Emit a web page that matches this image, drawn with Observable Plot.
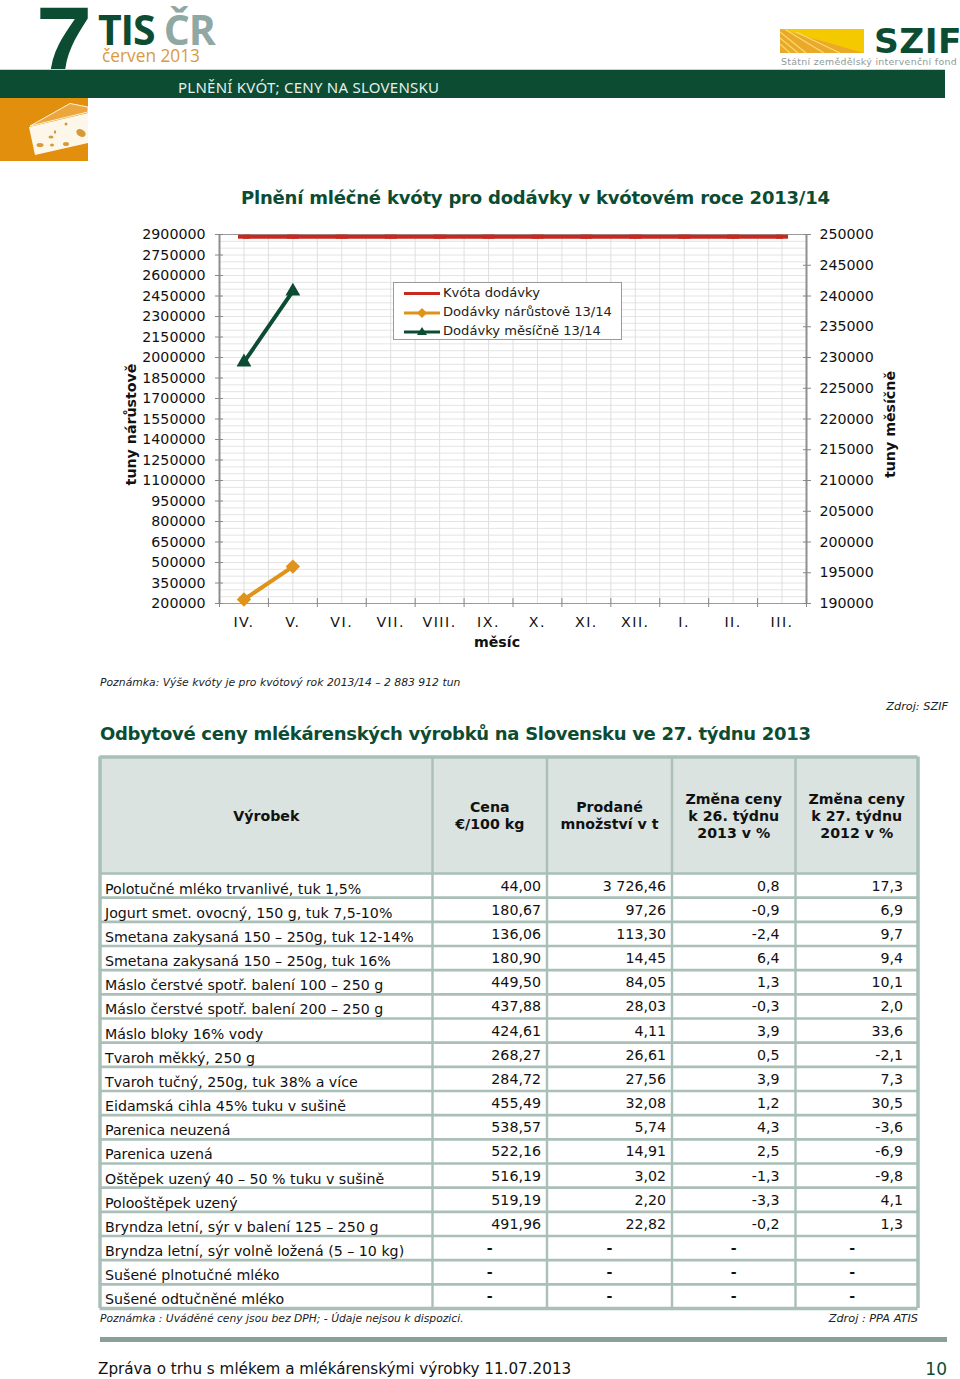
<!DOCTYPE html>
<html lang="cs">
<head>
<meta charset="utf-8">
<title>Plnění kvót; ceny na Slovensku</title>
<script src="https://cdn.jsdelivr.net/npm/d3@7"></script>
<script src="https://cdn.jsdelivr.net/npm/@observablehq/plot@0.6"></script>
<style>
html,body{margin:0;padding:0;width:960px;height:1379px;overflow:hidden;background:#fff;}
body{position:relative;font-family:"DejaVu Sans",sans-serif;color:#111;}
.a{position:absolute;white-space:nowrap;line-height:1;}
.a svg{display:block;}
[aria-label="x-axis tick label"]{letter-spacing:1.5px;}
</style>
</head>
<body>
<div class="a" id="seven" style="left:36px;top:0;font:bold 101px 'Liberation Sans';line-height:84px;color:#0b4c33;">7</div>
<div class="a" style="left:0;top:69px;width:945px;height:29px;background:#0b4c33;border-top:1px solid #bcd8cc;box-sizing:border-box;"></div>
<div class="a" style="left:98px;top:10px;font:bold 41px 'Open Sans';line-height:38px;color:#0b4c33;letter-spacing:-1.2px;">TIS <span style="color:#8fa8a3">ČR</span></div>
<div class="a" style="left:102px;top:48px;font:17.3px 'Open Sans';line-height:16px;color:#d99a3c;">červen 2013</div>
<div class="a" style="left:178px;top:79px;font:15px 'Noto Sans';line-height:16px;color:#e6efeb;letter-spacing:.25px;">PLNĚNÍ KVÓT; CENY NA SLOVENSKU</div>

<svg class="a" style="left:0;top:98px" width="88" height="63" viewBox="0 98 88 63" aria-hidden="true">
  <rect x="0" y="98" width="88" height="63" fill="#e38f0e"/>
  <path d="M30 126 L70 103.500 L88 107 L88 112 Z" fill="#eba63e" stroke="#fdf3df" stroke-width="1"/>
  <path d="M29 127 L88 113 L88 143 L35 155 Z" fill="#fdf7ea"/>
  <ellipse cx="81" cy="133" rx="5" ry="3.5" fill="#d69a3a" transform="rotate(30 81 133)"/>
  <ellipse cx="66" cy="144" rx="3" ry="2" fill="#d69a3a"/>
  <ellipse cx="40" cy="145" rx="3.5" ry="2" fill="#d69a3a"/>
  <ellipse cx="52" cy="145" rx="2" ry="1.6" fill="#d69a3a"/>
  <ellipse cx="51" cy="137" rx="2.5" ry="1.5" fill="#d69a3a"/>
  <ellipse cx="55" cy="132" rx="1.2" ry="1.8" fill="#d69a3a"/>
  <ellipse cx="66" cy="124" rx="1.500" ry="1.600" fill="#d69a3a"/>
</svg>

<svg class="a" style="left:780px;top:29px" width="84" height="24" viewBox="0 0 84 24" aria-hidden="true">
  <rect width="84" height="24" fill="#f5c900"/>
  <path d="M0 0 L84 24 L0 24 Z" fill="#eaa92a"/>
  <path d="M0 3 L26 24 M0 9 L18 24 M0 15 L10 24 M6 1 L44 24 M16 3 L60 24" stroke="#f7dc6a" stroke-width="1.2" fill="none"/>
</svg>
<div class="a" style="left:874px;top:26px;font:bold 34.5px 'DejaVu Sans';line-height:30px;color:#0b4c33;letter-spacing:.4px;">SZIF</div>
<div class="a" style="left:781px;top:56px;font:9.4px 'DejaVu Sans';line-height:11px;color:#8f9a96;letter-spacing:.3px;">Státní zemědělský intervenční fond</div>

<div class="a" style="left:241px;top:188px;font:bold 18px 'DejaVu Sans';line-height:20px;color:#0b4c33;letter-spacing:-.2px;">Plnění mléčné kvóty pro dodávky v kvótovém roce 2013/14</div>

<div class="a" id="chart" style="left:0;top:220px;"></div>

<div class="a" style="left:393px;top:282px;width:229px;height:58px;box-sizing:border-box;background:#fff;border:1px solid #9a9a9a;font-size:13.1px;color:#222;">
  <svg class="a" style="left:10px;top:2px" width="38" height="54" viewBox="0 0 38 54" aria-hidden="true">
    <path d="M0 8.5 H36" stroke="#c8281e" stroke-width="3"/>
    <path d="M0 28 H36" stroke="#e0931a" stroke-width="3"/><path d="M18 23 L23 28 L18 33 L13 28 Z" fill="#e0931a"/>
    <path d="M0 47 H36" stroke="#0b4c33" stroke-width="3"/><path d="M18 42 L23 50 L13 50 Z" fill="#0b4c33"/>
  </svg>
  <div class="a" style="left:49px;top:3px">Kvóta dodávky</div>
  <div class="a" style="left:49px;top:22px">Dodávky nárůstově 13/14</div>
  <div class="a" style="left:49px;top:41px">Dodávky měsíčně 13/14</div>
</div>

<div class="a" style="left:100px;top:677px;font:italic 10.8px 'DejaVu Sans';line-height:12px;color:#222;">Poznámka: Výše kvóty je pro kvótový rok 2013/14 – 2 883 912 tun</div>
<div class="a" style="right:12px;top:701px;font:italic 11.3px 'DejaVu Sans';line-height:12px;color:#222;">Zdroj: SZIF</div>
<div class="a" style="left:100px;top:724px;font:bold 18px 'DejaVu Sans';line-height:20px;color:#0b4c33;letter-spacing:-.3px;">Odbytové ceny mlékárenských výrobků na Slovensku ve 27. týdnu 2013</div>

<div class="a" id="table" style="left:0;top:745px;"></div>

<div class="a" style="left:100px;top:1313px;font:italic 10.75px 'DejaVu Sans';line-height:12px;color:#222;">Poznámka : Uváděné ceny jsou bez DPH; - Údaje nejsou k dispozici.</div>
<div class="a" style="right:42px;top:1313px;font:italic 11.3px 'DejaVu Sans';line-height:12px;color:#222;">Zdroj : PPA ATIS</div>
<div class="a" style="left:100px;top:1337px;width:847px;height:5px;background:#8a9f99;"></div>
<div class="a" style="left:98px;top:1360px;font:15.2px 'DejaVu Sans';line-height:18px;color:#111;">Zpráva o trhu s mlékem a mlékárenskými výrobky 11.07.2013</div>
<div class="a" style="right:13px;top:1358px;font:17px 'DejaVu Sans';line-height:22px;color:#0b4c33;">10</div>

<script>
// ---- chart data ----
const months = ["IV.","V.","VI.","VII.","VIII.","IX.","X.","XI.","XII.","I.","II.","III."];
const quota = [2883912,2883912,2883912,2883912,2883912,2883912,2883912,2883912,2883912,2883912,2883912,2883912];
const cumulative = [229250,470030];
const monthly = [229250,240780];
const leftTicks = [200000,350000,500000,650000,800000,950000,1100000,1250000,1400000,1550000,1700000,1850000,2000000,2150000,2300000,2450000,2600000,2750000,2900000];
const rightTicks = [190000,195000,200000,205000,210000,215000,220000,225000,230000,235000,240000,245000,250000];

// ---- table data ----
const products = ["Polotučné mléko trvanlivé, tuk 1,5%","Jogurt smet. ovocný, 150 g, tuk 7,5-10%","Smetana zakysaná 150 – 250g, tuk 12-14%","Smetana zakysaná 150 – 250g, tuk 16%","Máslo čerstvé spotř. balení 100 – 250 g","Máslo čerstvé spotř. balení 200 – 250 g","Máslo bloky 16% vody","Tvaroh měkký, 250 g","Tvaroh tučný, 250g, tuk 38% a více","Eidamská cihla 45% tuku v sušině","Parenica neuzená","Parenica uzená","Oštěpek uzený 40 – 50 % tuku v sušině","Polooštěpek uzený","Bryndza letní, sýr v balení 125 – 250 g","Bryndza letní, sýr volně ložená (5 – 10 kg)","Sušené plnotučné mléko","Sušené odtučněné mléko"];
const prices = ["44,00","180,67","136,06","180,90","449,50","437,88","424,61","268,27","284,72","455,49","538,57","522,16","516,19","519,19","491,96","-","-","-"];
const quantities = ["3 726,46","97,26","113,30","14,45","84,05","28,03","4,11","26,61","27,56","32,08","5,74","14,91","3,02","2,20","22,82","-","-","-"];
const change26 = ["0,8","-0,9","-2,4","6,4","1,3","-0,3","3,9","0,5","3,9","1,2","4,3","2,5","-1,3","-3,3","-0,2","-","-","-"];
const change27 = ["17,3","6,9","9,7","9,4","10,1","2,0","33,6","-2,1","7,3","30,5","-3,6","-6,9","-9,8","4,1","1,3","-","-","-"];
const headers = ["Výrobek","Cena\n€/100 kg","Prodané\nmnožství v t","Změna ceny\nk 26. týdnu\n2013 v %","Změna ceny\nk 27. týdnu\n2012 v %"];

// ---- colours ----
const GREEN="#0b4c33", ORANGE="#e0931a", RED="#c8281e", AXIS="#8f8f8f", GRID="#e4e4e4", TBL="#a9bfb8", HEAD="#dae3e0";

// Right-hand axis values are drawn through the left scale.
const rightToLeft = d3.scaleLinear([190000,250000],[200000,2900000]);
const minorY = d3.range(200000,2900001,50000);
const halfBands = d3.range(0,12.01,.5);
const bandEdges = d3.range(0,13);
const centres = months.map((_,i)=>i+.5);
const dash = {draw(c){c.rect(-6,-2,12,4);}};

const chart = Plot.plot({
  width:960, height:420,
  marginTop:14, marginBottom:37, marginLeft:219, marginRight:154,
  style:{fontFamily:"DejaVu Sans",fontSize:"14.2px",color:"#111",background:"transparent",overflow:"visible"},
  x:{type:"linear",domain:[0,12],axis:null},
  y:{type:"linear",domain:[200000,2900000],axis:null},
  marks:[
    Plot.ruleY(minorY,{stroke:GRID,strokeWidth:1}),
    Plot.ruleX(halfBands,{stroke:"#dfdfdf",strokeWidth:1}),
    Plot.ruleY([2900000],{stroke:"#9a9a9a",strokeWidth:1}),
    Plot.ruleY([200000],{stroke:"#9a9a9a",strokeWidth:1}),
    Plot.ruleX([0,12],{stroke:AXIS,strokeWidth:2}),
    Plot.axisY(leftTicks,{anchor:"left",tickSize:0,tickPadding:14,label:null,tickFormat:d=>String(d)}),
    Plot.axisY(leftTicks,{anchor:"left",tickSize:8,dx:4,text:null,label:null,stroke:"#888"}),
    Plot.axisY(rightTicks.map(rightToLeft),{anchor:"right",tickSize:0,tickPadding:13,label:null,tickFormat:d=>String(Math.round(rightToLeft.invert(d)))}),
    Plot.axisY(rightTicks.map(rightToLeft),{anchor:"right",tickSize:8,dx:-4,text:null,label:null,stroke:"#888"}),
    Plot.axisX(bandEdges,{anchor:"bottom",tickSize:9,dy:-5,text:null,label:null,stroke:"#888"}),
    Plot.axisX(centres,{anchor:"bottom",tickSize:0,tickPadding:13,label:null,tickFormat:d=>months[Math.floor(d)]}),
    Plot.line(quota,{x:(d,i)=>i+.5,y:d=>d,stroke:RED,strokeWidth:4}),
    Plot.dot(quota,{x:(d,i)=>i+.5,y:d=>d,symbol:dash,r:4,fill:RED,stroke:null}),
    Plot.line(cumulative,{x:(d,i)=>i+.5,y:d=>d,stroke:ORANGE,strokeWidth:4}),
    Plot.dot(cumulative,{x:(d,i)=>i+.5,y:d=>d,symbol:"diamond2",r:6.5,fill:ORANGE,stroke:null}),
    Plot.line(monthly,{x:(d,i)=>i+.5,y:d=>rightToLeft(d),stroke:GREEN,strokeWidth:4}),
    Plot.dot(monthly,{x:(d,i)=>i+.5,y:d=>rightToLeft(d),symbol:"triangle",r:5.5,fill:GREEN,stroke:null}),
    Plot.text(["tuny nárůstově"],{frameAnchor:"left",textAnchor:"middle",rotate:-90,dx:-88,dy:5.5,fontWeight:"bold"}),
    Plot.text(["tuny měsíčně"],{frameAnchor:"right",textAnchor:"middle",rotate:-90,dx:84,dy:5.5,fontWeight:"bold"}),
    Plot.text(["měsíc"],{frameAnchor:"bottom",dy:43,dx:-16,fontWeight:"bold"})
  ]
});
document.getElementById("chart").append(chart);

// ---- table, drawn with piecewise scales: column index -> x, row index -> y ----
const cols=[prices,quantities,change26,change27];
const valueInset=[-6,-6,-16,-15];
const dashInset=[0,0,0,-4.5];
const rowLines=d3.range(0,20);
const colLines=d3.range(0,6);

const table = Plot.plot({
  width:960, height:590,
  margin:0,
  style:{fontFamily:"DejaVu Sans",fontSize:"14.2px",color:"#111",background:"transparent"},
  x:{type:"linear",domain:[0,1,2,3,4,5],range:[99.5,432,546.5,671.5,795,917.5],axis:null},
  y:{type:"linear",domain:[0,1,19],range:[11.5,128,563],axis:null},
  marks:[
    Plot.rect(headers,{x1:(d,i)=>i,x2:(d,i)=>i+1,y1:()=>0,y2:()=>1,fill:HEAD}),
    Plot.ruleY(rowLines,{x1:0,x2:5,stroke:TBL,strokeWidth:d=>d===0||d===19?3.5:2.6}),
    Plot.ruleX(colLines,{y1:0,y2:19,stroke:TBL,strokeWidth:d=>d===0||d===5?3.5:2.4}),
    Plot.text(headers,{x:(d,i)=>i+.5,y:()=>.5,text:d=>d,fontWeight:"bold",lineHeight:1.2,fill:"#111"}),
    Plot.text(products,{x:()=>0,y:(d,i)=>i+1.5,text:d=>d,textAnchor:"start",dx:5,dy:3.5,fill:"#111"}),
    ...cols.map((col,c)=>Plot.text(col.filter(v=>v!=="-"),{x:()=>c+2,y:(d,i)=>i+1.5,text:d=>d,textAnchor:"end",dx:valueInset[c],dy:.5,fill:"#111"})),
    ...cols.map((col,c)=>Plot.text(col.map((v,r)=>({v,r})).filter(d=>d.v==="-"),{x:()=>c+1.5,y:d=>d.r+1.5,text:"v",dx:dashInset[c],dy:.5,fontWeight:"bold",fill:"#111"}))
  ]
});
document.getElementById("table").append(table);
</script>
</body>
</html>
